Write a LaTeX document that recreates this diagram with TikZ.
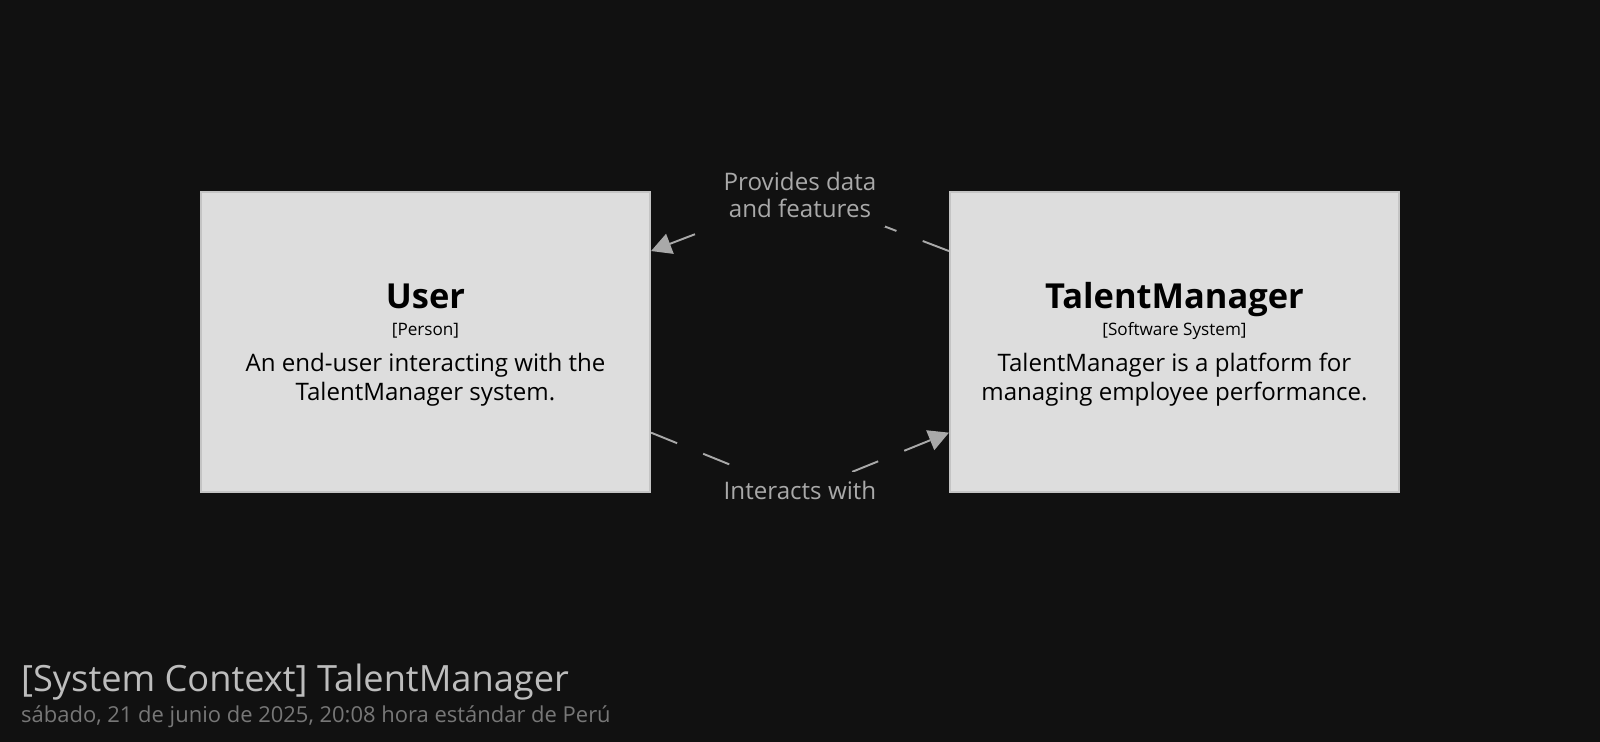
\documentclass[tikz,border=0pt]{standalone}
\usepackage{fontspec}
\setmainfont{Open Sans}
\usepackage{tikz}
\usetikzlibrary{arrows.meta}
\definecolor{bg}{HTML}{111111}
\definecolor{boxfill}{HTML}{DDDDDD}
\definecolor{boxline}{HTML}{C4C4C4}
\definecolor{relgray}{HTML}{A9A9A9}
\definecolor{titlegray}{HTML}{BDBDBD}
\definecolor{dategray}{HTML}{777777}
\tikzset{
  element/.style={draw=boxline, line width=1.2pt, fill=boxfill, minimum width=8.98cm, minimum height=6cm, inner sep=0pt},
  elname/.style={anchor=base, font=\fontsize{19.6}{23}\selectfont\bfseries, text=black},
  eltype/.style={anchor=base, font=\fontsize{9.75}{11}\selectfont, text=black},
  eldesc/.style={anchor=base, align=center, font=\fontsize{13.7}{16.3}\selectfont, text=black},
  rel/.style={draw=relgray, line width=1.1pt, dash pattern=on 16pt off 16pt},
  relhead/.style={-{Triangle[length=11.5pt,width=12pt]}},
  rellabel/.style={fill=bg, text=relgray, align=center, inner sep=5pt, font=\fontsize{13.75}{15.6}\selectfont}
}

\begin{document}
\begin{tikzpicture}
\fill[bg] (0,0) rectangle (32,-14.84);
\useasboundingbox (0,0) rectangle (32,-14.84);

% elements
\node[element] (user) at (8.51,-6.837) {};
\node[elname] (username) at (8.51,-6.17) {User};
\node[eltype] (usertype) at (8.51,-6.71) {[Person]};
\node[eldesc] (userdesc) at (8.51,-8.0) {An end-user interacting with the\\TalentManager system.};

\node[element] (tm) at (23.49,-6.837) {};
\node[elname] (tmname) at (23.49,-6.17) {TalentManager};
\node[eltype] (tmtype) at (23.49,-6.71) {[Software System]};
\node[eldesc] (tmdesc) at (23.49,-8.0) {TalentManager is a platform for\\managing employee performance.};

% relationships
\coordinate (tmout) at ([yshift=18.16mm]tm.west);
\coordinate (userin) at ([yshift=18.16mm]user.east);
\coordinate (userout) at ([yshift=-18.16mm]user.east);
\coordinate (tmin) at ([yshift=-18.16mm]tm.west);
\coordinate (topbend) at (16,-3.88);
\coordinate (botbend) at (16,-9.86);

\draw[rel] (tmout) -- (topbend);
\draw[rel,relhead] (topbend) -- (userin);
\draw[rel] (userout) -- (botbend);
\draw[rel,relhead] (botbend) -- (tmin);

\node[rellabel] (provides) at (16,-3.9) {Provides data\\and features};
\node[rellabel] (interacts) at (16,-9.8) {Interacts with};

% title
\node[anchor=base west, text=titlegray, font=\fontsize{20.6}{24}\selectfont] (title) at (0.3,-13.83) {[System Context] TalentManager};
\node[anchor=base west, text=dategray, font=\fontsize{12.5}{15}\selectfont] (date) at (0.3,-14.45) {sábado, 21 de junio de 2025, 20:08 hora estándar de Perú};
\end{tikzpicture}
\end{document}
